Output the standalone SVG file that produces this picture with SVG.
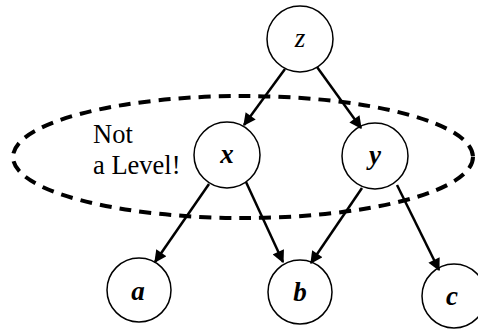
<svg xmlns="http://www.w3.org/2000/svg" width="478" height="329" viewBox="0 0 478 329">
<defs>
<style>
.node{fill:#fff;stroke:#000;stroke-width:1.5}
.lbl{font-family:"Liberation Serif","Times New Roman",serif;font-size:27px;font-style:italic;font-weight:bold;text-anchor:middle}
.edge{stroke:#000;stroke-width:2.5;fill:none;marker-end:url(#ah)}
.note{font-family:"Liberation Serif","Times New Roman",serif;font-size:26.5px}
</style>
<marker id="ah" viewBox="0 0 10 10" refX="9" refY="5" markerWidth="5.5" markerHeight="5" markerUnits="strokeWidth" orient="auto">
<path d="M0,0 L10,5 L0,10 z" fill="#000"/>
</marker>
</defs>
<rect width="478" height="329" fill="#fff"/>
<g id="z"><circle class="node" cx="300" cy="39" r="33"/><text class="lbl" x="300" y="47" style="font-weight:normal">z</text></g>
<g id="x"><circle class="node" cx="227" cy="155" r="33"/><text class="lbl" x="227" y="163">x</text></g>
<g id="y"><circle class="node" cx="375" cy="156" r="33"/><text class="lbl" x="375" y="164">y</text></g>
<g id="a"><circle class="node" cx="139" cy="290" r="32"/><text class="lbl" x="138" y="300">a</text></g>
<g id="b"><circle class="node" cx="300" cy="292" r="32"/><text class="lbl" x="300" y="301">b</text></g>
<g id="c"><circle class="node" cx="454" cy="296" r="32"/><text class="lbl" x="452" y="305">c</text></g>
<g id="connectors">
<path class="edge" d="M285,69 L244,125"/>
<path class="edge" d="M317,67 L361,128"/>
<path class="edge" d="M209,184 L155,262"/>
<path class="edge" d="M246,182 L283,262"/>
<path class="edge" d="M362,188 L311,263"/>
<path class="edge" d="M397,185 L439,270"/>
</g>
<g id="level">
<ellipse cx="243" cy="157" rx="230" ry="61" fill="none" stroke="#000" stroke-width="4" stroke-dasharray="12 8"/>
<text class="note" x="93" y="143">Not</text>
<text class="note" x="93" y="174">a Level!</text>
</g>
</svg>
